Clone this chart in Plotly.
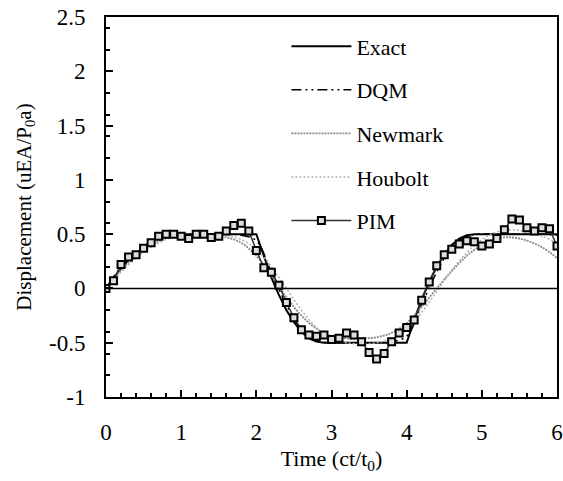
import plotly.graph_objects as go

# ---- data ----
t_pim = [round(0.1 * i, 1) for i in range(61)]
u_pim = [0.00, 0.07, 0.22, 0.29, 0.31, 0.37, 0.42, 0.48, 0.50, 0.50,
         0.48, 0.46, 0.50, 0.50, 0.47, 0.48, 0.53, 0.58, 0.60, 0.53,
         0.35, 0.19, 0.15, 0.03, -0.13, -0.27, -0.38, -0.43, -0.44, -0.43,
         -0.47, -0.46, -0.41, -0.43, -0.49, -0.59, -0.65, -0.60, -0.49, -0.41,
         -0.36, -0.29, -0.11, 0.06, 0.21, 0.31, 0.36, 0.41, 0.44, 0.43,
         0.39, 0.41, 0.46, 0.54, 0.64, 0.63, 0.56, 0.53, 0.56, 0.55, 0.39]

t_exact = [0.0, 0.1, 0.2, 0.3, 0.4, 0.5, 0.6, 0.7, 0.8, 0.9, 2.0,
           2.1, 2.2, 2.3, 2.4, 2.5, 2.6, 2.7, 2.8, 2.9, 4.0,
           4.1, 4.2, 4.3, 4.4, 4.5, 4.6, 4.7, 4.8, 4.9, 6.0]
u_exact = [0.0, 0.10, 0.18, 0.26, 0.32, 0.38, 0.43, 0.47, 0.49, 0.50, 0.50,
           0.29, 0.10, -0.06, -0.20, -0.31, -0.40, -0.46, -0.49, -0.50, -0.50,
           -0.29, -0.10, 0.06, 0.20, 0.31, 0.40, 0.46, 0.49, 0.50, 0.50]

t_smooth = [round(0.2 * i, 1) for i in range(31)]
u_dqm = [0.00, 0.20, 0.33, 0.43, 0.49, 0.50, 0.50, 0.50, 0.50, 0.49,
         0.44, 0.15, -0.15, -0.38, -0.48, -0.50, -0.50, -0.50, -0.50, -0.49,
         -0.44, -0.15, 0.15, 0.38, 0.48, 0.50, 0.50, 0.50, 0.50, 0.50, 0.49]
u_newmark = [0.00, 0.17, 0.30, 0.40, 0.46, 0.48, 0.48, 0.48, 0.47, 0.42,
             0.30, 0.12, -0.08, -0.25, -0.37, -0.44, -0.46, -0.46, -0.45, -0.41,
             -0.32, -0.17, 0.00, 0.16, 0.30, 0.40, 0.46, 0.47, 0.44, 0.38, 0.28]
u_houbolt = [0.00, 0.15, 0.28, 0.38, 0.45, 0.49, 0.50, 0.50, 0.49, 0.45,
             0.36, 0.20, 0.00, -0.20, -0.36, -0.46, -0.50, -0.51, -0.50, -0.46,
             -0.38, -0.22, -0.03, 0.17, 0.33, 0.45, 0.52, 0.54, 0.52, 0.48, 0.42]

x_ticks = [0, 1, 2, 3, 4, 5, 6]
y_ticks = [-1, -0.5, 0, 0.5, 1, 1.5, 2, 2.5]
y_labels = ["-1", "-0.5", "0", "0.5", "1", "1.5", "2", "2.5"]

FONT = "Liberation Serif, Times New Roman, Times, serif"

fig = go.Figure()
fig.add_trace(go.Scatter(x=t_exact, y=u_exact, mode="lines", name="Exact",
                         legendgroup="a",
                         line=dict(color="black", width=2)))
fig.add_trace(go.Scatter(x=t_smooth, y=u_dqm, mode="lines", name="DQM",
                         legendgroup="b",
                         line=dict(color="black", width=1.5,
                                   dash="10px,4px,2px,4px,2px,4px"),
                         line_shape="spline"))
fig.add_trace(go.Scatter(x=t_smooth, y=u_newmark, mode="lines", name="Newmark",
                         legendgroup="c",
                         line=dict(color="#8a8a8a", width=1.8, dash="2px,1px"),
                         line_shape="spline"))
fig.add_trace(go.Scatter(x=t_smooth, y=u_houbolt, mode="lines", name="Houbolt",
                         legendgroup="d",
                         line=dict(color="#b0b0b0", width=1.5, dash="2px,2px"),
                         line_shape="spline"))
fig.add_trace(go.Scatter(x=t_pim, y=u_pim, mode="lines+markers", name="PIM",
                         legendgroup="e",
                         line=dict(color="#333333", width=1.5),
                         marker=dict(symbol="square", size=7, color="#dddddd",
                                     line=dict(color="black", width=2))))

# zero line
fig.add_hline(y=0, line=dict(color="black", width=1.5))

axis_common = dict(
    showline=True, linecolor="black", linewidth=2, mirror=True,
    ticks="inside", tickcolor="black", tickwidth=1.5,
    showgrid=False, zeroline=False, automargin=False,
    tickfont=dict(family=FONT, size=23, color="black"),
)

fig.update_xaxes(range=[0, 6], tickvals=x_ticks, ticklen=7,
                 ticklabelstandoff=13,
                 minor=dict(dtick=0.2, tick0=0, ticks="inside", ticklen=4,
                            tickcolor="black", tickwidth=1.5, showgrid=False),
                 title=dict(text="Time (ct/t<sub>0</sub>)",
                            font=dict(family=FONT, size=22, color="black"),
                            standoff=7),
                 **axis_common)
fig.update_yaxes(range=[-1, 2.5], tickvals=y_ticks, ticktext=y_labels, ticklen=7,
                 ticklabelstandoff=14,
                 minor=dict(dtick=0.2, tick0=0, ticks="inside", ticklen=4,
                            tickcolor="black", tickwidth=1.5, showgrid=False),
                 title=dict(text="Displacement (uEA/P<sub>0</sub>a)",
                            font=dict(family=FONT, size=21, color="black"),
                            standoff=12),
                 **axis_common)

fig.update_layout(
    width=563, height=481,
    margin=dict(l=106, r=6, t=17, b=84),
    plot_bgcolor="white", paper_bgcolor="white",
    font=dict(family=FONT, color="black"),
    legend=dict(x=0.40, y=0.978, xanchor="left", yanchor="top",
                bgcolor="rgba(0,0,0,0)", borderwidth=0,
                font=dict(family=FONT, size=22, color="black"),
                tracegroupgap=12, itemwidth=60),
    showlegend=True,
)

fig.write_html("out.html")
